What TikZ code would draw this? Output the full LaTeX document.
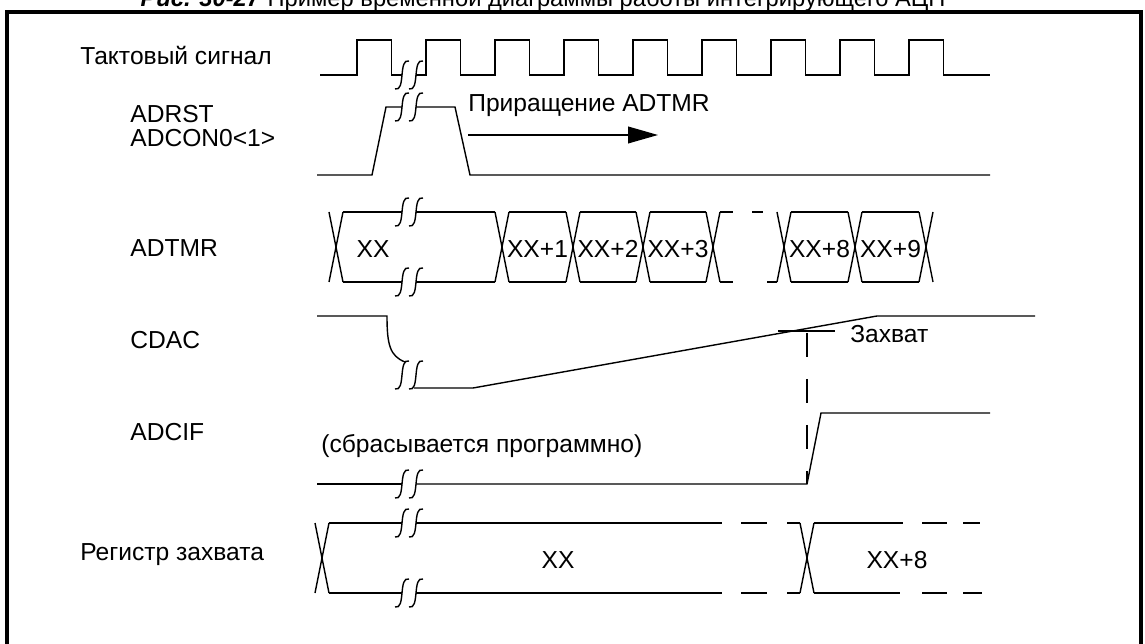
\documentclass[tikz,border=0pt]{standalone}
\usepackage{fontspec}
\setmainfont{Liberation Sans}
\usetikzlibrary{arrows.meta}

\begin{document}
\begin{tikzpicture}[
    x=0.02cm, y=-0.02cm,
    sig/.style={line width=0.8pt, line join=miter},
    lbl/.style={anchor=west, inner sep=0pt, font=\fontsize{14}{13.5}\selectfont},
    val/.style={inner sep=0pt, font=\fontsize{14}{16}\selectfont},
    gap/.pic={
        \draw[sig] (-14,14) .. controls (-3,17) and (-11,-17) .. (0,-14);
        \draw[sig] (0,14) .. controls (11,17) and (3,-17) .. (14,-14);
    },
    xing/.pic={
        \draw[sig] (-7,-35) -- (7,35);
        \draw[sig] (-7,35) -- (7,-35);
    }
]
    \useasboundingbox (0,0) rectangle (1145,644);

    % Frame and caption
    \node[anchor=base, inner sep=0pt, font=\fontsize{13.5}{15}\selectfont] (title) at (543,7)
        {\textbf{\textit{Рис. 30-27}} Пример временной диаграммы работы интегрирующего АЦП};
    \draw[line width=2pt] (7,700) -- (7,12) -- (1141,12) -- (1141,700);

    % Signal names
    \node[lbl] (clk) at (80,55) {Тактовый сигнал};
    \node[lbl, align=left, anchor=north west] (adrst) at (130,105) {ADRST\\ADCON0<1>};
    \node[lbl] (adtmr) at (130,248) {ADTMR};
    \node[lbl] (cdac) at (130,340) {CDAC};
    \node[lbl] (adcif) at (130,432) {ADCIF};
    \node[lbl] (capreg) at (80,555) {Регистр захвата};

    % Clock
    \draw[sig] (320,75) -- (357,75) -- (357,40) -- (391.5,40) -- (391.5,75) -- (402,75);
    \draw[sig] (416,75) -- (426,75) -- (426,40) -- (460.5,40) -- (460.5,75)
        -- (495,75) -- (495,40) -- (529.5,40) -- (529.5,75)
        -- (564,75) -- (564,40) -- (598.5,40) -- (598.5,75)
        -- (633,75) -- (633,40) -- (667.5,40) -- (667.5,75)
        -- (702,75) -- (702,40) -- (736.5,40) -- (736.5,75)
        -- (771,75) -- (771,40) -- (805.5,40) -- (805.5,75)
        -- (840,75) -- (840,40) -- (874.5,40) -- (874.5,75)
        -- (909,75) -- (909,40) -- (943.5,40) -- (943.5,75) -- (990,75);
    \pic at (409,75) {gap};

    % ADRST
    \draw[sig] (317,175) -- (372,175) -- (386,107) -- (402,107);
    \draw[sig] (416,107) -- (455,107) -- (470,175) -- (990,175);
    \pic at (409,107) {gap};
    \node[lbl] (incr) at (468,106) {Приращение ADTMR};
    \coordinate (incs) at (468,135);
    \coordinate (ince) at (658,135);
    \draw[sig, -{Triangle[length=17pt, width=9.5pt]}] (incs) -- (ince);

    % ADTMR
    \pic at (336,247) {xing};
    \draw[sig] (343,212) -- (402,212) (416,212) -- (495,212);
    \draw[sig] (343,282) -- (402,282) (416,282) -- (495,282);
    \pic at (409,212) {gap};
    \pic at (409,282) {gap};
    \pic at (502,247) {xing};
    \draw[sig] (509,212) -- (566,212) (509,282) -- (566,282);
    \pic at (573,247) {xing};
    \draw[sig] (580,212) -- (636,212) (580,282) -- (636,282);
    \pic at (643,247) {xing};
    \draw[sig] (650,212) -- (706,212) (650,282) -- (706,282);
    \pic at (713,247) {xing};
    \draw[sig] (720,212) -- (733,212) (752,212) -- (763,212);
    \draw[sig] (720,282) -- (733,282) (767,282) -- (777,282);
    \pic at (784,247) {xing};
    \draw[sig] (791,212) -- (848,212) (791,282) -- (848,282);
    \pic at (855,247) {xing};
    \draw[sig] (862,212) -- (919,212) (862,282) -- (919,282);
    \pic at (926,247) {xing};
    \node[val] (xx) at (373,249) {XX};
    \node[val] (xx1) at (537.5,249) {XX+1};
    \node[val] (xx2) at (608,249) {XX+2};
    \node[val] (xx3) at (678,249) {XX+3};
    \node[val] (xx8) at (819.5,249) {XX+8};
    \node[val] (xx9) at (890.5,249) {XX+9};

    % CDAC
    \draw[sig] (317,316) -- (387,316) .. controls (387,345) and (390,356) .. (405,362);
    \pic at (409,375) {gap};
    \draw[sig] (414,388) -- (473,388) -- (877,316) -- (1035,316);
    \coordinate (capl) at (778,331);
    \coordinate (capr) at (835,331);
    \draw[sig] (capl) -- (capr);
    \node[lbl] (capt) at (850,334) {Захват};

    % ADCIF
    \draw[sig] (317,484) -- (402,484);
    \draw[sig] (416,484) -- (807,484) -- (821,413) -- (990,413);
    \pic at (409,484) {gap};
    \node[lbl] (clr) at (321,446) {(сбрасывается программно)};
    \coordinate (capt-top) at (807,333);
    \coordinate (capt-bot) at (807,484);
    \draw[sig, dash pattern=on 0.48cm off 0.44cm] (capt-top) -- (capt-bot);

    % Capture register
    \pic at (322,558) {xing};
    \draw[sig] (329,523) -- (402,523) (416,523) -- (722,523);
    \draw[sig] (329,593) -- (402,593) (416,593) -- (722,593);
    \draw[sig, dash pattern=on 0.52cm off 0.4cm] (741,523) -- (800,523) (741,593) -- (800,593);
    \pic at (409,523) {gap};
    \pic at (409,593) {gap};
    \pic at (807,558) {xing};
    \draw[sig] (814,523) -- (903,523) (814,593) -- (900,593);
    \draw[sig, dash pattern=on 0.5cm off 0.32cm] (922,523) -- (980,523) (922,593) -- (982,593);
    \node[val] (regxx) at (558,560) {XX};
    \node[val] (regxx8) at (897,560) {XX+8};
\end{tikzpicture}
\end{document}
